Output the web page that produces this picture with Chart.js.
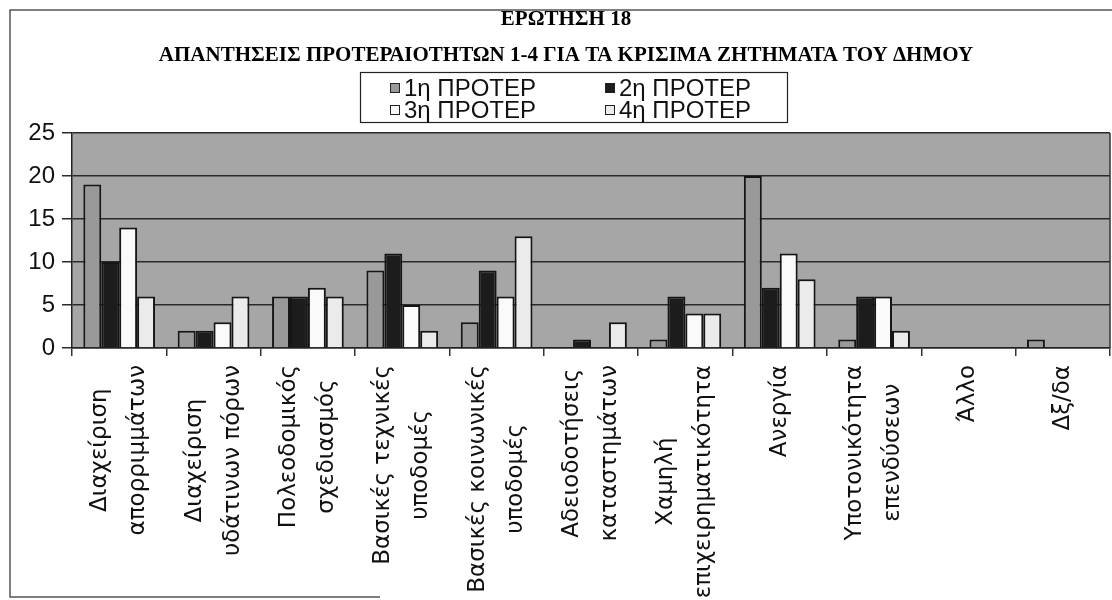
<!DOCTYPE html>
<html><head><meta charset="utf-8">
<script src="https://cdn.jsdelivr.net/npm/chart.js@4"></script>
<style>html,body{margin:0;padding:0;background:#fff;}#wrap{width:1112px;height:600px;position:relative;}</style>
</head><body><div id="wrap"><canvas id="c"></canvas></div>
<script>
const titleLines = ['ΕΡΩΤΗΣΗ 18', 'ΑΠΑΝΤΗΣΕΙΣ ΠΡΟΤΕΡΑΙΟΤΗΤΩΝ 1-4 ΓΙΑ ΤΑ ΚΡΙΣΙΜΑ ΖΗΤΗΜΑΤΑ ΤΟΥ ΔΗΜΟΥ'];
const categories = [
  ['Διαχείριση', 'απορριμμάτων'],
  ['Διαχείριση', 'υδάτινων πόρων'],
  ['Πολεοδομικός', 'σχεδιασμός'],
  ['Βασικές τεχνικές', 'υποδομές'],
  ['Βασικές κοινωνικές', 'υποδομές'],
  ['Αδειοδοτήσεις', 'καταστημάτων'],
  ['Χαμηλή', 'επιχειρηματικότητα'],
  ['Ανεργία'],
  ['Υποτονικότητα', 'επενδύσεων'],
  ['Άλλο'],
  ['Δξ/δα']
];
const seriesNames = ['1η ΠΡΟΤΕΡ', '2η ΠΡΟΤΕΡ', '3η ΠΡΟΤΕΡ', '4η ΠΡΟΤΕΡ'];
const priority1 = [19, 2, 6, 9, 3, 0, 1, 20, 1, 0, 1];
const priority2 = [10, 2, 6, 11, 9, 1, 6, 7, 6, 0, 0];
const priority3 = [14, 3, 7, 5, 6, 0, 4, 11, 6, 0, 0];
const priority4 = [6, 6, 6, 2, 13, 3, 4, 8, 2, 0, 0];
const yTicks = [0, 5, 10, 15, 20, 25];

const seriesColors = ['#999999', '#1c1c1c', '#fafafa', '#ebebeb'];
const seriesValues = [priority1, priority2, priority3, priority4];

const framePlugin = {
  id: 'frame',
  beforeDraw(chart) {
    const ctx = chart.ctx, a = chart.chartArea;
    ctx.save();
    ctx.fillStyle = '#ffffff';
    ctx.fillRect(0, 0, chart.width, chart.height);
    ctx.fillStyle = '#a6a6a6';
    ctx.fillRect(a.left, a.top, a.right - a.left, a.bottom - a.top);
    ctx.strokeStyle = '#555';
    ctx.lineWidth = 1.5;
    ctx.beginPath();
    ctx.moveTo(1112, 10); ctx.lineTo(10, 10); ctx.lineTo(10, 597); ctx.lineTo(380, 597);
    ctx.stroke();
    ctx.restore();
  },
  beforeDatasetsDraw(chart) {
    const ctx = chart.ctx, a = chart.chartArea;
    ctx.save();
    ctx.strokeStyle = '#333';
    ctx.lineWidth = 1.5;
    ctx.beginPath();
    ctx.moveTo(a.right, a.top); ctx.lineTo(a.right, a.bottom);
    ctx.stroke();
    ctx.restore();
  }
};

const legendPlugin = {
  id: 'boxLegend',
  afterDraw(chart) {
    const ctx = chart.ctx;
    ctx.save();
    ctx.strokeStyle = '#222';
    ctx.lineWidth = 1.2;
    ctx.strokeRect(360.5, 72.5, 427, 50);
    ctx.font = '24px "Liberation Sans", Arial, sans-serif';
    ctx.textBaseline = 'middle';
    const cols = [390, 605], rows = [88, 110];
    chart.data.datasets.forEach((ds, i) => {
      const x = cols[i % 2], y = rows[Math.floor(i / 2)];
      ctx.fillStyle = ds.backgroundColor;
      ctx.fillRect(x, y - 5, 10, 10);
      ctx.strokeStyle = '#222';
      ctx.lineWidth = 1;
      ctx.strokeRect(x + 0.5, y - 4.5, 9, 9);
      ctx.fillStyle = '#111';
      ctx.fillText(ds.label, x + 14, y + 1);
    });
    ctx.restore();
  }
};

const xLabelPlugin = {
  id: 'xLabels',
  afterDraw(chart) {
    const sc = chart.scales.x, ctx = chart.ctx;
    ctx.save();
    ctx.font = '23px "DejaVu Sans", sans-serif';
    ctx.fillStyle = '#111';
    ctx.textAlign = 'center';
    ctx.textBaseline = 'middle';
    const lineGap = 38;
    chart.data.labels.forEach((lab, i) => {
      const lines = Array.isArray(lab) ? lab : [lab];
      const x = sc.getPixelForTick(i);
      const maxW = Math.max(...lines.map(l => ctx.measureText(l).width));
      const cy = sc.top + 17 + maxW / 2;
      lines.forEach((l, j) => {
        const lx = x + (j - (lines.length - 1) / 2) * lineGap;
        ctx.save();
        ctx.translate(lx, cy);
        ctx.rotate(-Math.PI / 2);
        ctx.fillText(l, 0, 0);
        ctx.restore();
      });
    });
    ctx.restore();
  }
};

new Chart(document.getElementById('c'), {
  type: 'bar',
  data: {
    labels: categories,
    datasets: seriesNames.map((name, i) => ({
      label: name,
      data: seriesValues[i],
      backgroundColor: seriesColors[i],
      borderColor: '#151515',
      borderWidth: 2,
      borderSkipped: 'start',
      categoryPercentage: 0.76,
      barPercentage: 1.0
    }))
  },
  options: {
    responsive: true,
    maintainAspectRatio: false,
    animation: false,
    devicePixelRatio: 1,
    layout: { padding: { left: 22, right: 2, top: 0, bottom: 0 } },
    plugins: {
      legend: { display: false },
      tooltip: { enabled: false },
      title: {
        display: true,
        text: titleLines,
        color: '#000',
        font: { family: '"Liberation Serif", serif', size: 21, weight: 'bold', lineHeight: 36 / 21 },
        padding: { top: 2, bottom: 59 }
      }
    },
    scales: {
      x: {
        offset: true,
        grid: { display: true, drawOnChartArea: false, drawTicks: true, tickLength: 8, color: '#333', lineWidth: 1.5, offset: true },
        border: { display: true, color: '#222', width: 1.5 },
        ticks: { display: false },
        afterFit(s) { s.height = 252; }
      },
      y: {
        min: yTicks[0],
        max: yTicks[yTicks.length - 1],
        afterBuildTicks(s) { s.ticks = yTicks.map(v => ({ value: v })); },
        grid: { color: '#2a2a2a', lineWidth: 1.5, tickLength: 10, drawTicks: true },
        border: { display: true, color: '#222', width: 1.5 },
        ticks: { color: '#111', padding: 7, font: { family: '"Liberation Sans", Arial, sans-serif', size: 24 } },
        afterFit(s) { s.width = 50; }
      }
    }
  },
  plugins: [framePlugin, legendPlugin, xLabelPlugin]
});
</script></body></html>
